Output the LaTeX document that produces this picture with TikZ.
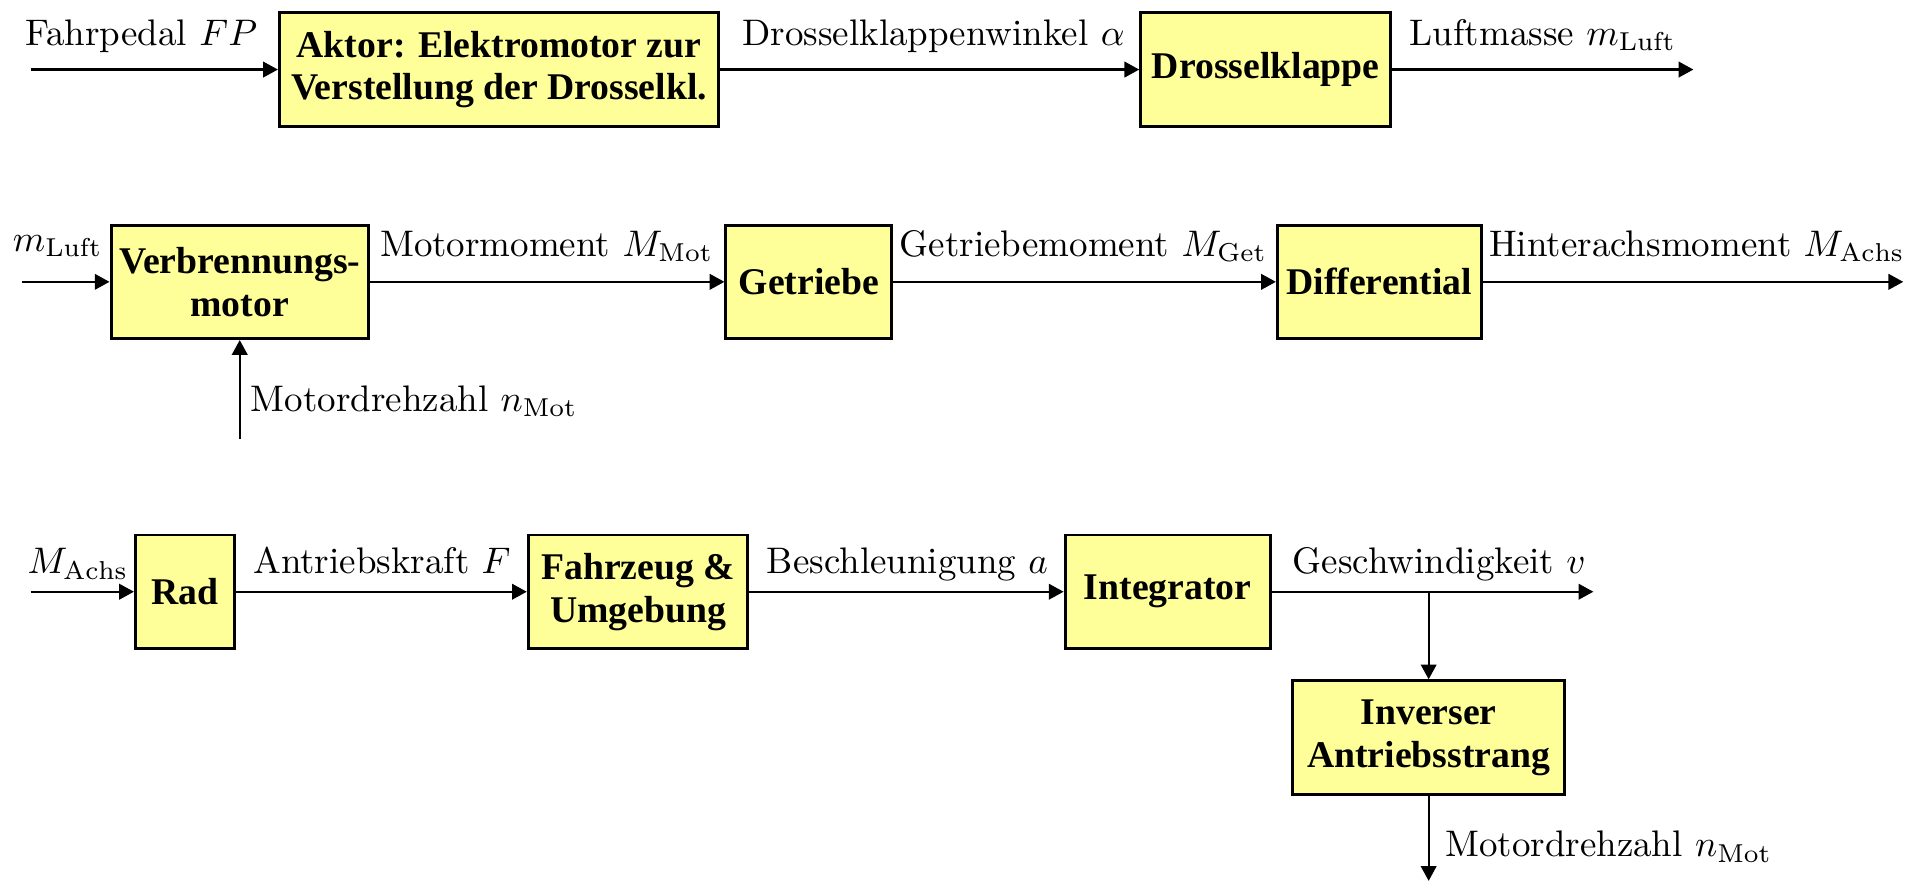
\documentclass[tikz,border=0pt]{standalone}
\usepackage{fontspec}
\newfontfamily\boxfont{Liberation Serif}
\usetikzlibrary{arrows.meta}
\definecolor{boxyellow}{HTML}{FFFF99}
\begin{document}
\begin{tikzpicture}[x=0.33pt,y=-0.33pt,
  blk/.style={draw, line width=0.8pt, fill=boxyellow, inner sep=0pt,
    minimum height=93*0.33pt, align=center,
    font=\boxfont\bfseries\fontsize{10.2}{11.6}\selectfont},
  sig/.style={-{Triangle[length=4pt,width=4.2pt]}, line width=0.6pt},
  lbl/.style={anchor=base west, inner sep=0pt}]
\useasboundingbox (0,0) rectangle (1568,725);
% row 1
\node[blk, minimum width=360*0.33pt] (aktor) at (409,57) {Aktor: Elektromotor zur\\Verstellung der Drosselkl.};
\node[blk, minimum width=205*0.33pt] (dross) at (1037.5,57) {Drosselklappe};
\coordinate (fp) at (25,57);
\coordinate (out1) at (1388,57);
\draw[sig] (fp) -- (aktor);
\draw[sig] (aktor) -- (dross);
\draw[sig] (dross) -- (out1);
\node[lbl] (l1) at (20,37) {Fahrpedal $FP$};
\node[lbl] (l2) at (608,37) {Drosselklappenwinkel $\alpha$};
\node[lbl] (l3) at (1155,37) {Luftmasse $m_{\mathrm{Luft}}$};
% row 2
\node[blk, minimum width=211*0.33pt] (verb) at (196.5,231) {Verbrennungs-\\motor};
\node[blk, minimum width=136*0.33pt] (getr) at (663,231) {Getriebe};
\node[blk, minimum width=167*0.33pt] (diff) at (1130.5,231) {Differential};
\coordinate (ml) at (18,231);
\coordinate (out2) at (1560,231);
\coordinate (nin) at (196.5,360);
\draw[sig] (ml) -- (verb);
\draw[sig] (verb) -- (getr);
\draw[sig] (getr) -- (diff);
\draw[sig] (diff) -- (out2);
\draw[sig] (nin) -- (verb.south);
\node[lbl] (l4) at (10,206) {$m_{\mathrm{Luft}}$};
\node[lbl] (l5) at (311,210) {Motormoment $M_{\mathrm{Mot}}$};
\node[lbl] (l6) at (737,210) {Getriebemoment $M_{\mathrm{Get}}$};
\node[lbl] (l7) at (1220,210) {Hinterachsmoment $M_{\mathrm{Achs}}$};
\node[lbl] (l8) at (205,337) {Motordrehzahl $n_{\mathrm{Mot}}$};
% row 3
\node[blk, minimum width=81*0.33pt] (rad) at (151.5,485) {Rad};
\node[blk, minimum width=180*0.33pt] (fahr) at (523,485) {Fahrzeug \&\\Umgebung};
\node[blk, minimum width=168*0.33pt] (integ) at (957,485) {Integrator};
\node[blk, minimum width=223*0.33pt] (inv) at (1171,604.5) {Inverser\\Antriebsstrang};
\coordinate (ma) at (25,485);
\coordinate (out3) at (1306,485);
\coordinate (br) at (1171,485);
\coordinate (out4) at (1171,722);
\draw[sig] (ma) -- (rad);
\draw[sig] (rad) -- (fahr);
\draw[sig] (fahr) -- (integ);
\draw[sig] (integ) -- (out3);
\draw[sig] (br) -- (inv.north);
\draw[sig] (inv.south) -- (out4);
\node[lbl] (l9) at (22,470) {$M_{\mathrm{Achs}}$};
\node[lbl] (l10) at (207,470) {Antriebskraft $F$};
\node[lbl] (l11) at (628,470) {Beschleunigung $a$};
\node[lbl] (l12) at (1059,470) {Geschwindigkeit $v$};
\node[lbl] (l13) at (1184,702) {Motordrehzahl $n_{\mathrm{Mot}}$};
\end{tikzpicture}
\end{document}
